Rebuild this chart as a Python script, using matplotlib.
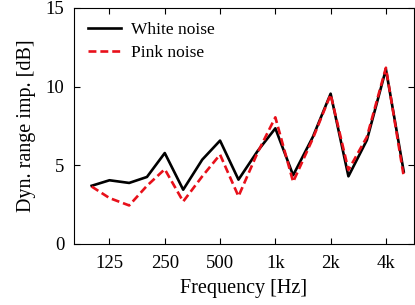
import matplotlib
matplotlib.use("Agg")
import matplotlib.pyplot as plt
import numpy as np

freqs = [100, 125, 160, 200, 250, 315, 400, 500, 630, 800, 1000, 1250, 1600, 2000, 2500, 3150, 4000, 5000]
white = [3.7, 4.05, 3.88, 4.26, 5.78, 3.45, 5.36, 6.57, 4.09, 5.9, 7.35, 4.37, 6.8, 9.55, 4.3, 6.6, 11.1, 4.6]
pink = [3.65, 2.92, 2.45, 3.7, 4.75, 2.7, 4.3, 5.68, 3.03, 5.8, 8.05, 3.95, 6.7, 9.5, 4.7, 6.8, 11.2, 4.3]
xticks = [125, 250, 500, 1000, 2000, 4000]
xticklabels = ["125", "250", "500", "1k", "2k", "4k"]
yticks = [0, 5, 10, 15]

plt.rcParams['font.family'] = ['Liberation Serif', 'DejaVu Serif']

fig = plt.figure(figsize=(4.15, 3.05), dpi=100)
ax = fig.add_axes([0.178, 0.2, 0.82, 0.774])
ax.plot(freqs, white, color='black', lw=1.9, label='White noise')
ax.plot(freqs, pink, color='#e8101a', lw=1.9, ls=(0, (3, 1.5)), label='Pink noise')
ax.set_xscale('log')
ax.set_xlim(80, 5700)
ax.set_ylim(0, 15)
ax.set_xticks(xticks)
ax.set_xticklabels(xticklabels)
ax.xaxis.set_minor_locator(matplotlib.ticker.NullLocator())
ax.set_yticks(yticks)
ax.tick_params(direction='in', top=True, right=True, labelsize=13.5, length=4, width=0.8)
ax.tick_params(axis='x', pad=8)
ax.tick_params(axis='y', pad=7)
for s in ax.spines.values():
    s.set_linewidth(0.8)
ax.set_xlabel('Frequency [Hz]', fontsize=14.5, labelpad=5)
ax.set_ylabel('Dyn. range imp. [dB]', fontsize=14.5, labelpad=7)
ax.legend(loc='upper left', frameon=False, fontsize=12.5, handlelength=1.9, handletextpad=0.6,
          borderaxespad=0.4, labelspacing=0.4, borderpad=0.4)
fig.savefig('out.png', dpi=100)
